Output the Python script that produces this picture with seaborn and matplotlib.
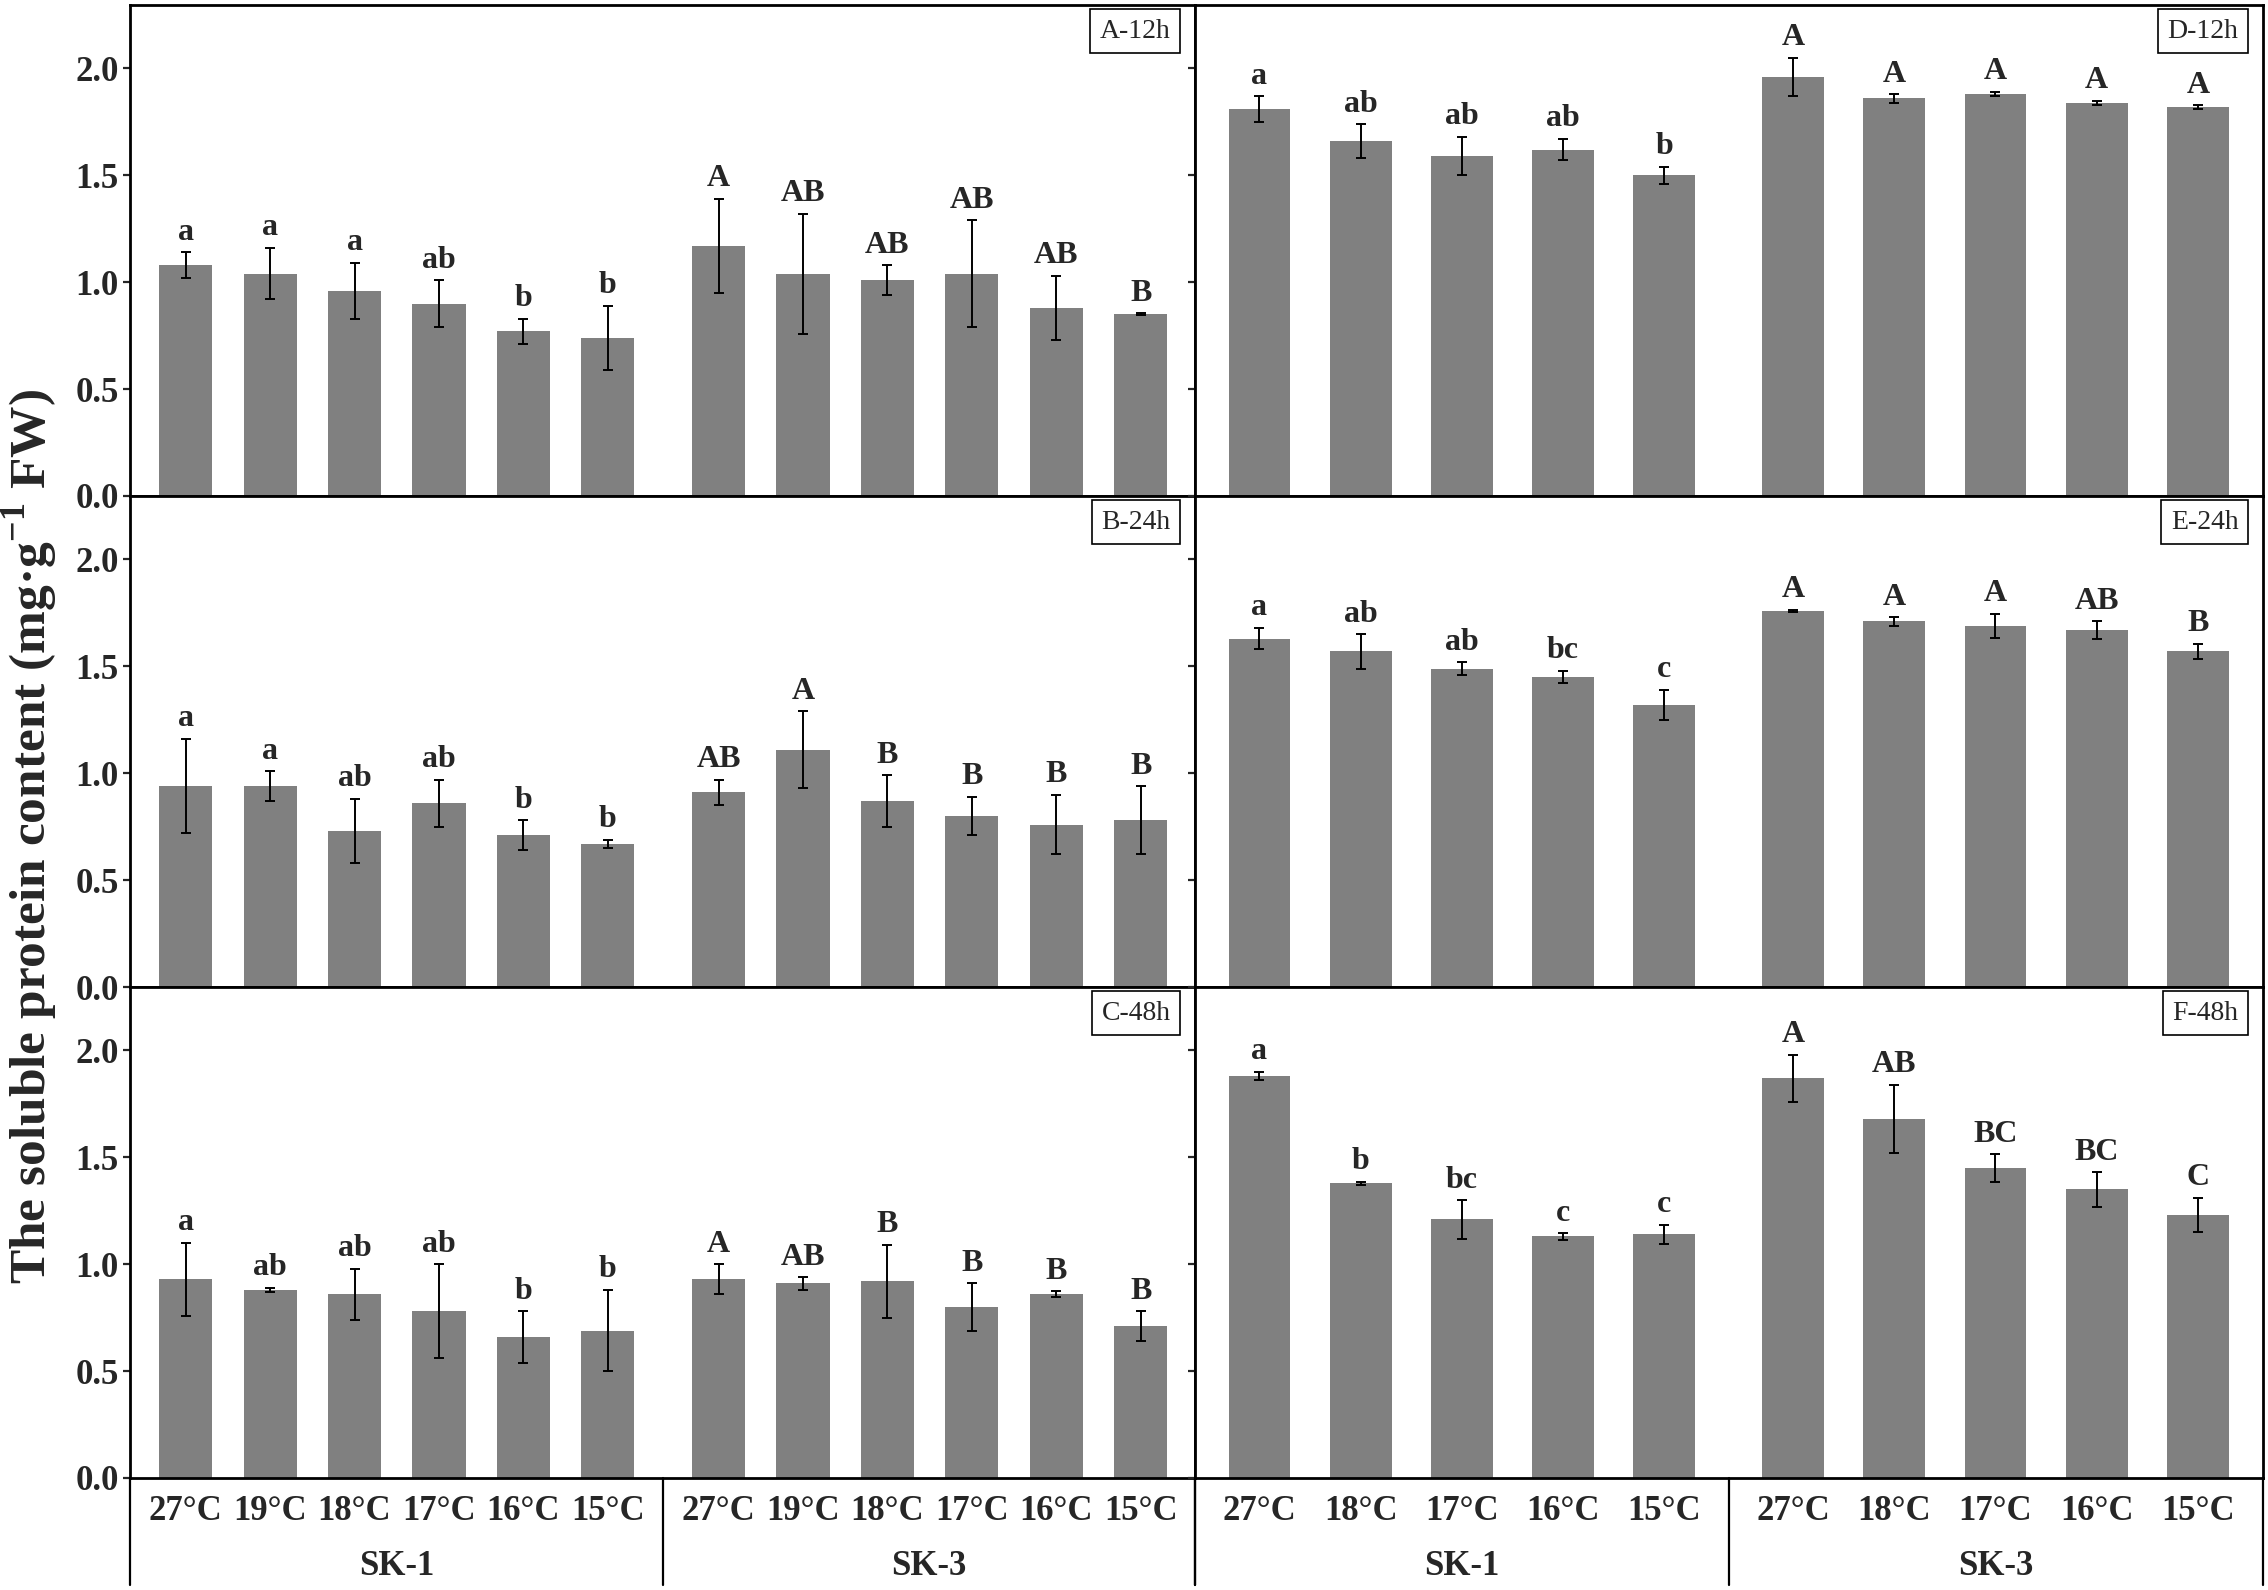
import matplotlib
matplotlib.use("Agg")
import matplotlib.pyplot as plt
import matplotlib.transforms as mtransforms
import numpy as np
import pandas as pd
import seaborn as sns

# ---- data ----
temps_left = ["27°C", "19°C", "18°C", "17°C", "16°C", "15°C"]
temps_right = ["27°C", "18°C", "17°C", "16°C", "15°C"]
groups = ["SK-1", "SK-3"]

A_sk1 = [1.08, 1.04, 0.96, 0.90, 0.77, 0.74]
A_sk1_sd = [0.06, 0.12, 0.13, 0.11, 0.06, 0.15]
A_sk3 = [1.17, 1.04, 1.01, 1.04, 0.88, 0.85]
A_sk3_sd = [0.22, 0.28, 0.07, 0.25, 0.15, 0.005]
A_let = ["a", "a", "a", "ab", "b", "b", "A", "AB", "AB", "AB", "AB", "B"]

B_sk1 = [0.94, 0.94, 0.73, 0.86, 0.71, 0.67]
B_sk1_sd = [0.22, 0.07, 0.15, 0.11, 0.07, 0.02]
B_sk3 = [0.91, 1.11, 0.87, 0.80, 0.76, 0.78]
B_sk3_sd = [0.06, 0.18, 0.12, 0.09, 0.14, 0.16]
B_let = ["a", "a", "ab", "ab", "b", "b", "AB", "A", "B", "B", "B", "B"]

C_sk1 = [0.93, 0.88, 0.86, 0.78, 0.66, 0.69]
C_sk1_sd = [0.17, 0.01, 0.12, 0.22, 0.12, 0.19]
C_sk3 = [0.93, 0.91, 0.92, 0.80, 0.86, 0.71]
C_sk3_sd = [0.07, 0.03, 0.17, 0.11, 0.013, 0.07]
C_let = ["a", "ab", "ab", "ab", "b", "b", "A", "AB", "B", "B", "B", "B"]

D_sk1 = [1.81, 1.66, 1.59, 1.62, 1.50]
D_sk1_sd = [0.06, 0.08, 0.09, 0.05, 0.04]
D_sk3 = [1.96, 1.86, 1.88, 1.84, 1.82]
D_sk3_sd = [0.09, 0.02, 0.01, 0.01, 0.008]
D_let = ["a", "ab", "ab", "ab", "b", "A", "A", "A", "A", "A"]

E_sk1 = [1.63, 1.57, 1.49, 1.45, 1.32]
E_sk1_sd = [0.05, 0.08, 0.03, 0.03, 0.07]
E_sk3 = [1.76, 1.71, 1.69, 1.67, 1.57]
E_sk3_sd = [0.005, 0.02, 0.055, 0.04, 0.035]
E_let = ["a", "ab", "ab", "bc", "c", "A", "A", "A", "AB", "B"]

F_sk1 = [1.88, 1.38, 1.21, 1.13, 1.14]
F_sk1_sd = [0.02, 0.007, 0.09, 0.015, 0.045]
F_sk3 = [1.87, 1.68, 1.45, 1.35, 1.23]
F_sk3_sd = [0.11, 0.16, 0.065, 0.08, 0.08]
F_let = ["a", "b", "bc", "c", "c", "A", "AB", "BC", "BC", "C"]

panels_left = [("A-12h", A_sk1, A_sk1_sd, A_sk3, A_sk3_sd, A_let),
               ("B-24h", B_sk1, B_sk1_sd, B_sk3, B_sk3_sd, B_let),
               ("C-48h", C_sk1, C_sk1_sd, C_sk3, C_sk3_sd, C_let)]
panels_right = [("D-12h", D_sk1, D_sk1_sd, D_sk3, D_sk3_sd, D_let),
                ("E-24h", E_sk1, E_sk1_sd, E_sk3, E_sk3_sd, E_let),
                ("F-48h", F_sk1, F_sk1_sd, F_sk3, F_sk3_sd, F_let)]

# ---- style ----
sns.set_style("white")
plt.rcParams['font.family'] = ['Liberation Serif', 'DejaVu Serif']
plt.rcParams['font.weight'] = 'bold'
plt.rcParams['mathtext.fontset'] = 'custom'
plt.rcParams['mathtext.rm'] = 'Liberation Serif:bold'
plt.rcParams['mathtext.bf'] = 'Liberation Serif:bold'
plt.rcParams['axes.linewidth'] = 2.0

BAR = "#808080"
W, H = 2268, 1590
fig = plt.figure(figsize=(W / 100, H / 100), dpi=100)

rows_px = [(5, 496), (496, 987), (987, 1478)]
cols_px = [(130, 1195, 1.314, 0.63, 0.66, 0.644), (1195, 2263, 1.27, 0.61, 0.636, 0.643)]


def draw_panel(ax, title, s1, s1sd, s3, s3sd, letters, temps, gap, width, lm, rm, bottom_row, show_ylabels):
    n = len(temps)
    pos = list(range(n)) + [n - 1 + gap + i for i in range(n)]
    vals = list(s1) + list(s3)
    sds = list(s1sd) + list(s3sd)
    df = pd.DataFrame({"pos": pos, "value": vals})
    sns.barplot(data=df, x="pos", y="value", native_scale=True, width=width,
                color=BAR, saturation=1, errorbar=None, linewidth=0, ax=ax)
    ax.errorbar(pos, vals, yerr=sds, fmt='none', ecolor='black',
                elinewidth=1.4, capsize=3.6, capthick=1.4, zorder=3)
    for p, v, s, t in zip(pos, vals, sds, letters):
        ax.annotate(t, (p, v + s), xytext=(0, 4), textcoords='offset points',
                    ha='center', va='bottom', fontsize=23, fontweight='bold')
    x0, x1 = -lm, pos[-1] + rm
    ax.set_xlim(x0, x1)
    ax.set_ylim(0, 2.297)
    ax.set_yticks([0.0, 0.5, 1.0, 1.5, 2.0])
    ax.set_xlabel("")
    ax.set_ylabel("")
    ax.tick_params(axis='y', direction='out', length=5, width=1.6, pad=3,
                   labelsize=25, left=True, labelleft=show_ylabels)
    for lab in ax.get_yticklabels():
        lab.set_fontweight('bold')
    for sp in ax.spines.values():
        sp.set_visible(True)
        sp.set_color('black')
        sp.set_linewidth(2.0)
    ax.text(0.977, 0.972, title, transform=ax.transAxes, ha='right', va='top',
            fontsize=20, fontweight='normal',
            bbox=dict(boxstyle='square,pad=0.35', fc='white', ec='black', lw=1.2))
    if bottom_row:
        ax.set_xticks(pos)
        ax.set_xticklabels(temps + temps, fontsize=25, fontweight='bold')
        ax.tick_params(axis='x', length=0, pad=12)
        trans = mtransforms.blended_transform_factory(ax.transData, ax.transAxes)
        mid = (n - 1 + n - 1 + gap) / 2
        for xv in [x0, mid, x1]:
            ax.plot([xv, xv], [0, -0.218], transform=trans, color='black',
                    lw=1.6, clip_on=False)
        for gx, g in zip([(x0 + mid) / 2, (mid + x1) / 2], groups):
            ax.text(gx, -0.18, g, transform=trans, ha='center', va='center',
                    fontsize=25, fontweight='bold')
    else:
        ax.set_xticks([])


for ci, (panels, temps) in enumerate([(panels_left, temps_left), (panels_right, temps_right)]):
    xl, xr, gap, width, lm, rm = cols_px[ci]
    for ri, (title, s1, s1sd, s3, s3sd, let) in enumerate(panels):
        yt, yb = rows_px[ri]
        ax = fig.add_axes([xl / W, 1 - yb / H, (xr - xl) / W, (yb - yt) / H])
        draw_panel(ax, title, s1, s1sd, s3, s3sd, let, temps, gap, width, lm, rm,
                   ri == 2, ci == 0)

fig.text(30 / W, 1 - 837 / H, r"The soluble protein content (mg·g$^{-1}$ FW)",
         rotation=90, ha='center', va='center', fontsize=37, fontweight='bold')

fig.savefig("out.png", dpi=100)
